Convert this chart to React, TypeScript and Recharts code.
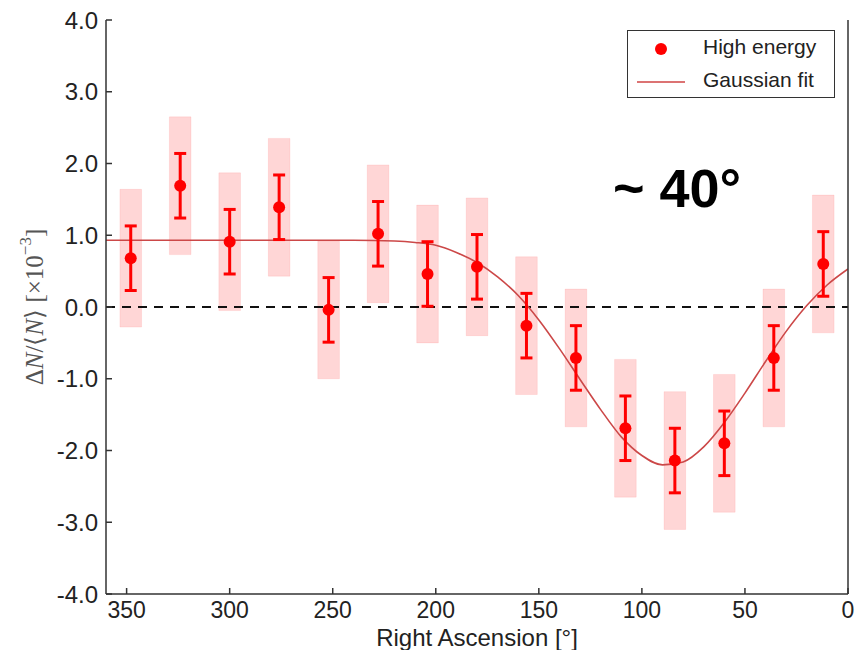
import {
  ComposedChart,
  Line,
  Scatter,
  ErrorBar,
  XAxis,
  YAxis,
  ReferenceArea,
  ReferenceLine,
} from "recharts";

// binned anisotropy measurements (24 deg bins)
const raBins = [348, 324, 300, 276, 252, 228, 204, 180, 156, 132, 108, 84, 60, 36, 12];
const amplitudes = [0.68, 1.69, 0.91, 1.39, -0.04, 1.02, 0.46, 0.56, -0.26, -0.71, -1.69, -2.14, -1.9, -0.71, 0.6];
const statErr = [0.45, 0.45, 0.45, 0.45, 0.45, 0.45, 0.45, 0.45, 0.45, 0.45, 0.45, 0.45, 0.45, 0.45, 0.45];
const sysErr = [0.96, 0.96, 0.96, 0.96, 0.96, 0.96, 0.96, 0.96, 0.96, 0.96, 0.96, 0.96, 0.96, 0.96, 0.96];

// gaussian fit
const fitRa = [360, 330, 300, 270, 240, 220, 210, 200, 190, 180, 170, 160, 150, 140, 130, 120, 110, 100, 90, 80, 70, 60, 50, 40, 30, 20, 10, 0];
const fitValues = [0.93, 0.93, 0.93, 0.93, 0.93, 0.92, 0.9, 0.86, 0.76, 0.62, 0.42, 0.16, -0.18, -0.58, -1.01, -1.43, -1.81, -2.07, -2.2, -2.16, -1.95, -1.61, -1.2, -0.76, -0.34, 0.02, 0.31, 0.53];

const xTicks = [0, 50, 100, 150, 200, 250, 300, 350];
const yTicks = [-4, -3, -2, -1, 0, 1, 2, 3, 4];

const points = raBins.map((ra, i) => ({ ra, value: amplitudes[i], err: statErr[i], sys: sysErr[i] }));
const fit = fitRa.map((ra, i) => ({ ra, fit: fitValues[i] }));

const BOX_HALF = 5.25;
const AXIS = "#333";
const FONT = "'Liberation Sans', Arial, sans-serif";

const BottomTick = ({ x, y, payload }: any) => (
  <g>
    <line x1={x} y1={y} x2={x} y2={y - 6} stroke={AXIS} strokeWidth={1.5} />
    <text x={x} y={y + 24} textAnchor="middle" fontSize={23} fontFamily={FONT} fill="#222">
      {payload.value}
    </text>
  </g>
);

const TopTick = ({ x, y }: any) => (
  <line x1={x} y1={y} x2={x} y2={y + 6} stroke={AXIS} strokeWidth={1.5} />
);

const LeftTick = ({ x, y, payload }: any) => (
  <g>
    <line x1={x} y1={y} x2={x + 6} y2={y} stroke={AXIS} strokeWidth={1.5} />
    <text x={x - 8} y={y + 8.5} textAnchor="end" fontSize={24} fontFamily={FONT} fill="#222">
      {payload.value.toFixed(1)}
    </text>
  </g>
);

const RightTick = ({ x, y }: any) => (
  <line x1={x} y1={y} x2={x - 6} y2={y} stroke={AXIS} strokeWidth={1.5} />
);

const XLabel = ({ viewBox }: any) => (
  <text
    x={viewBox.x + viewBox.width / 2}
    y={viewBox.y + 52}
    textAnchor="middle"
    fontSize={24}
    fontFamily={FONT}
    fill="#222"
  >
    Right Ascension [°]
  </text>
);

const YLabel = ({ viewBox }: any) => {
  const cx = viewBox.x + 34;
  const cy = viewBox.y + viewBox.height / 2;
  return (
    <text
      x={cx}
      y={cy}
      transform={`rotate(-90, ${cx}, ${cy})`}
      textAnchor="middle"
      dominantBaseline="central"
      fontSize={25}
      fontFamily="'Liberation Serif', serif"
      fill="#555"
    >
      <tspan>Δ</tspan>
      <tspan fontStyle="italic">N</tspan>
      <tspan>/⟨</tspan>
      <tspan fontStyle="italic">N</tspan>
      <tspan>⟩ [×10</tspan>
      <tspan dy={-9} fontSize={17}>−3</tspan>
      <tspan dy={9}>]</tspan>
    </text>
  );
};

const LegendBox = () => (
  <div
    style={{
      position: "absolute",
      left: 627,
      top: 30,
      border: "1.5px solid #333",
      background: "#fff",
      width: 206,
      height: 66,
      fontFamily: FONT,
      fontSize: 21,
      color: "#222",
    }}
  >
    <svg width={60} height={66} style={{ position: "absolute", left: 0, top: 0 }}>
      <circle cx={33} cy={18} r={6} fill="red" />
      <line x1={9} y1={51} x2={57} y2={51} stroke="#d04545" strokeWidth={1.5} />
    </svg>
    <div style={{ position: "absolute", left: 75, top: 4 }}>High energy</div>
    <div style={{ position: "absolute", left: 75, top: 37 }}>Gaussian fit</div>
  </div>
);

const Dot = ({ cx, cy }: any) => <circle cx={cx} cy={cy} r={6} fill="red" />;

export default function App() {
  return (
    <div style={{ margin: -8, position: "relative", width: 868, height: 658, background: "#fff" }}>
      <ComposedChart width={868} height={658} margin={{ top: 20, right: 0, bottom: 0, left: 0 }}>
        <XAxis
          xAxisId="b"
          dataKey="ra"
          type="number"
          domain={[0, 360]}
          reversed
          ticks={xTicks}
          height={64}
          tickSize={0}
          tickMargin={0}
          tickLine={false}
          tick={BottomTick}
          axisLine={{ stroke: AXIS, strokeWidth: 1.5 }}
          allowDataOverflow
          label={{ content: XLabel }}
        />
        <XAxis
          xAxisId="t"
          orientation="top"
          dataKey="ra"
          type="number"
          domain={[0, 360]}
          reversed
          ticks={xTicks}
          height={0}
          tickSize={0}
          tickMargin={0}
          tickLine={false}
          tick={TopTick}
          axisLine={{ stroke: AXIS, strokeWidth: 1.5 }}
        />
        <YAxis
          yAxisId="l"
          type="number"
          domain={[-4, 4]}
          ticks={yTicks}
          width={106}
          tickSize={0}
          tickMargin={0}
          tickLine={false}
          tick={LeftTick}
          axisLine={{ stroke: AXIS, strokeWidth: 1.5 }}
          label={{ content: YLabel }}
        />
        <YAxis
          yAxisId="r"
          orientation="right"
          type="number"
          domain={[-4, 4]}
          ticks={yTicks}
          width={20}
          tickSize={0}
          tickMargin={0}
          tickLine={false}
          tick={RightTick}
          axisLine={{ stroke: AXIS, strokeWidth: 1.5 }}
        />

        {points.map((p) => (
          <ReferenceArea
            key={p.ra}
            xAxisId="b"
            yAxisId="l"
            x1={p.ra + BOX_HALF}
            x2={p.ra - BOX_HALF}
            y1={p.value - p.sys}
            y2={p.value + p.sys}
            fill="#ff0000"
            fillOpacity={0.16}
            stroke="#ff0000"
            strokeOpacity={0.08}
          />
        ))}

        <ReferenceLine xAxisId="b" yAxisId="l" y={0} stroke="#111" strokeWidth={2.2} strokeDasharray="9 7" />

        <Line
          xAxisId="b"
          yAxisId="l"
          data={fit}
          dataKey="fit"
          type="monotone"
          stroke="#cc4848"
          strokeWidth={1.6}
          dot={false}
          activeDot={false}
          isAnimationActive={false}
        />

        <Scatter
          xAxisId="b"
          yAxisId="l"
          data={points}
          dataKey="value"
          fill="red"
          shape={Dot}
          isAnimationActive={false}
        >
          <ErrorBar dataKey="err" direction="y" width={6} stroke="red" strokeWidth={3} />
        </Scatter>
      </ComposedChart>

      <LegendBox />

      <div
        style={{
          position: "absolute",
          left: 613,
          top: 161,
          fontFamily: FONT,
          fontWeight: "bold",
          fontSize: 54,
          lineHeight: 1,
          color: "#000",
          whiteSpace: "nowrap",
        }}
      >
        ~ 40°
      </div>
    </div>
  );
}
